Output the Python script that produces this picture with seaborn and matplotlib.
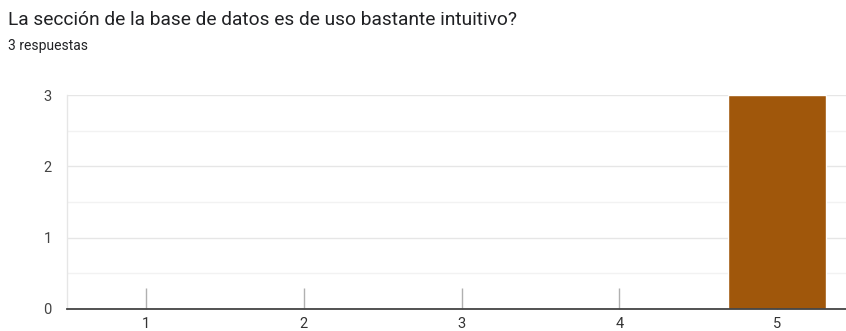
import matplotlib
matplotlib.use("Agg")
import matplotlib.pyplot as plt
import seaborn as sns
import pandas as pd

# Survey answers on a 1-5 scale and how many responses each got
categories = ["1", "2", "3", "4", "5"]
counts = [0, 0, 0, 0, 3]
title = "La sección de la base de datos es de uso bastante intuitivo?"
subtitle = "3 respuestas"

sns.set_theme(style="white")
plt.rcParams["font.family"] = ["Roboto", "DejaVu Sans"]

df = pd.DataFrame({"opcion": categories, "respuestas": counts})

W, H = 846, 331
fig = plt.figure(figsize=(W / 100, H / 100), dpi=100)
left, right, top, bottom = 67, 856, 95, 309
ax = fig.add_axes([left / W, (H - bottom) / H, (right - left) / W, (bottom - top) / H])

sns.barplot(data=df, x="opcion", y="respuestas", order=categories,
            color="#a0570b", saturation=1, width=0.62, ax=ax)

ax.set_ylim(0, 3)
ax.set_xlim(-0.5, 4.5)
ax.set_yticks([0, 1, 2, 3])
ax.set_yticks([0.5, 1.5, 2.5], minor=True)
ax.grid(axis="y", which="major", color="#e6e6e6", linewidth=1)
ax.grid(axis="y", which="minor", color="#f2f2f2", linewidth=1)
ax.set_axisbelow(True)
ax.set_xlabel("")
ax.set_ylabel("")

for s in ["top", "right"]:
    ax.spines[s].set_visible(False)
ax.spines["left"].set_color("#e6e6e6")
ax.spines["left"].set_linewidth(1)
ax.spines["bottom"].set_color("#444444")
ax.spines["bottom"].set_linewidth(1.3)

ax.tick_params(axis="x", direction="in", length=15, width=1, color="#b0b0b0",
               labelsize=10.5, labelcolor="#333333", pad=6, bottom=True)
ax.tick_params(axis="y", length=0, labelsize=10.5, labelcolor="#444444", pad=11)
ax.tick_params(axis="y", which="minor", length=0)

fig.text(8 / W, 1 - 20 / H, title, fontsize=13.8, color="#202124", va="center", ha="left")
fig.text(8 / W, 1 - 46 / H, subtitle, fontsize=10, color="#202124", va="center", ha="left")

fig.savefig("out.png", dpi=100)
